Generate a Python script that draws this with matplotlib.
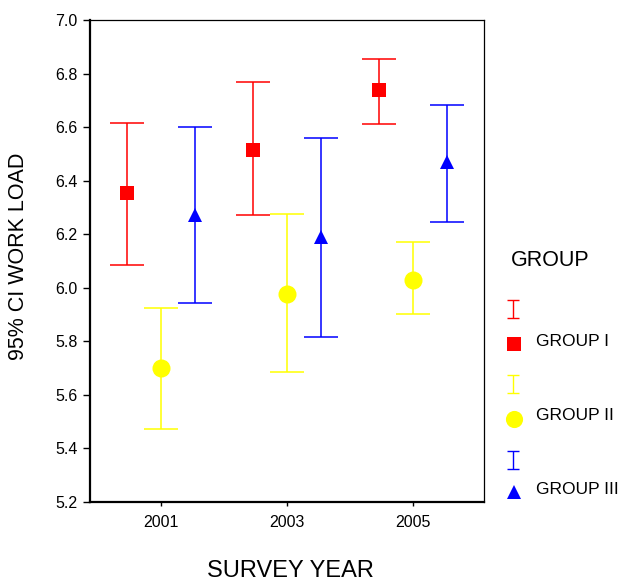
import matplotlib
matplotlib.use("Agg")
import matplotlib.pyplot as plt
import numpy as np

plt.rcParams['font.family'] = ['Liberation Sans', 'DejaVu Sans']

years = ['2001', '2003', '2005']
groups = ['GROUP I', 'GROUP II', 'GROUP III']
colors = ['#ff0000', '#ffff00', '#0000ff']
markers = ['s', 'o', '^']
msizes = [10, 13, 10]

# mean, lower and upper bound of the 95% CI per group and year
means = {
    'GROUP I': [6.355, 6.515, 6.74],
    'GROUP II': [5.70, 5.978, 6.03],
    'GROUP III': [6.27, 6.19, 6.47],
}
lower = {
    'GROUP I': [6.086, 6.272, 6.612],
    'GROUP II': [5.472, 5.687, 5.903],
    'GROUP III': [5.944, 5.817, 6.246],
}
upper = {
    'GROUP I': [6.617, 6.769, 6.855],
    'GROUP II': [5.925, 6.276, 6.172],
    'GROUP III': [6.600, 6.560, 6.683],
}

fig = plt.figure(figsize=(6.25, 5.84), dpi=100)
ax = fig.add_axes([0.144, 0.1404, 0.6304, 0.8254])

x = np.arange(len(years))
offsets = [-0.27, 0.0, 0.27]
for g, c, m, ms, off in zip(groups, colors, markers, msizes, offsets):
    mu = np.array(means[g])
    lo = mu - np.array(lower[g])
    hi = np.array(upper[g]) - mu
    ax.errorbar(x + off, mu, yerr=[lo, hi], fmt='none', ecolor=c,
                elinewidth=1.1, capsize=12.5, capthick=1.1)
    ax.plot(x + off, mu, linestyle='none', marker=m, color=c,
            markersize=ms, markeredgewidth=0)

ax.set_xlim(-0.56, 2.56)
ax.set_ylim(5.2, 7.0)
yt = np.arange(5.2, 7.01, 0.2)
ax.set_yticks(yt)
ax.set_yticklabels([f'{v:.1f}' for v in yt])
ax.set_xticks(x)
ax.set_xticklabels(years)
ax.tick_params(axis='y', direction='out', length=5, width=1, labelsize=11.5, pad=4)
ax.tick_params(axis='x', direction='out', length=3, width=1, labelsize=11.5, pad=6)
for side in ['left', 'bottom']:
    ax.spines[side].set_linewidth(1.6)
for side in ['top', 'right']:
    ax.spines[side].set_linewidth(0.9)

fig.text(0.029, 0.561, '95% CI WORK LOAD', fontsize=15.5, rotation=90,
         ha='center', va='center')
fig.text(0.465, 0.003, 'SURVEY YEAR', fontsize=17, ha='center', va='bottom')

# legend drawn by hand at the right, in pixel coordinates of the figure
lg = fig.add_axes([0, 0, 1, 1])
lg.set_xlim(0, 625)
lg.set_ylim(584, 0)
lg.axis('off')
lg.text(511, 260, 'GROUP', fontsize=15.5, ha='left', va='center')
bar_y = [309, 384, 460]
mark_y = [344, 419, 492]
for g, c, m, ms, by, my in zip(groups, colors, markers, msizes, bar_y, mark_y):
    lg.errorbar([513], [by], yerr=[[9], [9]], fmt='none',
                ecolor=c, elinewidth=1.0, capsize=4.5, capthick=1.0)
    lg.plot([514], [my], linestyle='none', marker=m, color=c,
            markersize=ms * 0.95, markeredgewidth=0)
    lg.text(536, my - 3, g, fontsize=12.5, ha='left', va='center')

fig.savefig('out.png', dpi=100)
